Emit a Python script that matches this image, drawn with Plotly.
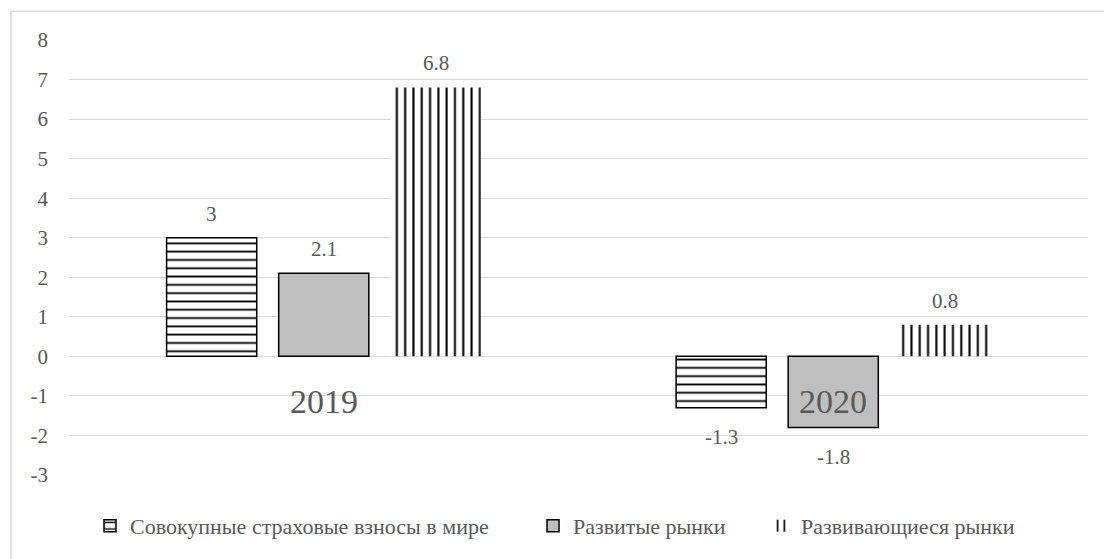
import plotly.graph_objects as go

categories = ["2019", "2020"]
series_names = ["Совокупные страховые взносы в мире", "Развитые рынки", "Развивающиеся рынки"]
world = [3, -1.3]
developed = [2.1, -1.8]
emerging = [6.8, 0.8]
y_ticks = [-3, -2, -1, 0, 1, 2, 3, 4, 5, 6, 7, 8]
y_tick_text = ["-3", "-2", "-1", "0", "1", "2", "3", "4", "5", "6", "7", "8"]

FONT = "Liberation Serif, Times New Roman, DejaVu Serif, serif"
TXT = "#595959"
BARGAP = 0.34
BARGROUPGAP = 0.196

fig = go.Figure()
styles = [
    dict(color="white", line=dict(color="black", width=1.5),
         pattern=dict(shape="-", fgcolor="black", bgcolor="white", size=8.3, solidity=0.22, fillmode="replace")),
    dict(color="#BFBFBF", line=dict(color="black", width=1.5)),
    dict(color="white", line=dict(color="black", width=0),
         pattern=dict(shape="|", fgcolor="black", bgcolor="white", size=8.3, solidity=0.25, fillmode="replace")),
]
all_vals = [world, developed, emerging]
legends = ["legend", "legend2", "legend3"]
for name, vals, st, lg in zip(series_names, all_vals, styles, legends):
    fig.add_trace(go.Bar(x=categories, y=vals, name=name, marker=st, legend=lg, showlegend=True))

# data labels
n = len(all_vals)
slot = (1 - BARGAP) / n
annotations = []
for i, vals in enumerate(all_vals):
    for ci, v in enumerate(vals):
        xpos = ci + (i - (n - 1) / 2) * slot
        annotations.append(dict(x=xpos, y=v, xref="x", yref="y", text=f"{v:g}",
                                showarrow=False, yanchor="middle",
                                yshift=24 if v >= 0 else -29,
                                font=dict(family=FONT, size=21, color=TXT)))
# category labels next to the axis
for ci, c in enumerate(categories):
    annotations.append(dict(x=ci, y=0, xref="x", yref="y", text=c, showarrow=False,
                            yanchor="middle", yshift=-45,
                            font=dict(family=FONT, size=34, color=TXT)))

legend_common = dict(orientation="h", y=-0.117, yanchor="middle", xanchor="left",
                     font=dict(family=FONT, size=22, color=TXT), bgcolor="rgba(0,0,0,0)")

fig.update_layout(
    width=1104, height=559,
    margin=dict(l=69, r=16, t=40, b=82),
    paper_bgcolor="white", plot_bgcolor="white",
    barmode="group", bargap=BARGAP, bargroupgap=BARGROUPGAP,
    font=dict(family=FONT, size=21, color=TXT),
    showlegend=True,
    annotations=annotations,
    xaxis=dict(showticklabels=False, showgrid=False, zeroline=False, showline=False, ticks=""),
    yaxis=dict(range=[-3, 8], tickvals=y_ticks, ticktext=y_tick_text, showgrid=True,
               gridcolor="#D9D9D9", gridwidth=1.3,
               zeroline=True, zerolinecolor="#D9D9D9", zerolinewidth=1.3, showline=False,
               ticks="", ticklabelstandoff=20, tickfont=dict(family=FONT, size=21, color=TXT)),
    legend=dict(legend_common, x=(90 - 69) / 1019),
    legend2=dict(legend_common, x=(533 - 69) / 1019),
    legend3=dict(legend_common, x=(761 - 69) / 1019),
    shapes=[dict(type="rect", xref="paper", yref="paper",
                 x0=(11 - 69) / 1019, x1=(1110 - 69) / 1019,
                 y0=(477 - 565) / 437, y1=(477 - 11) / 437,
                 line=dict(color="#D9D9D9", width=1.5), fillcolor="rgba(0,0,0,0)", layer="below")],
)

fig.write_html("out.html")
